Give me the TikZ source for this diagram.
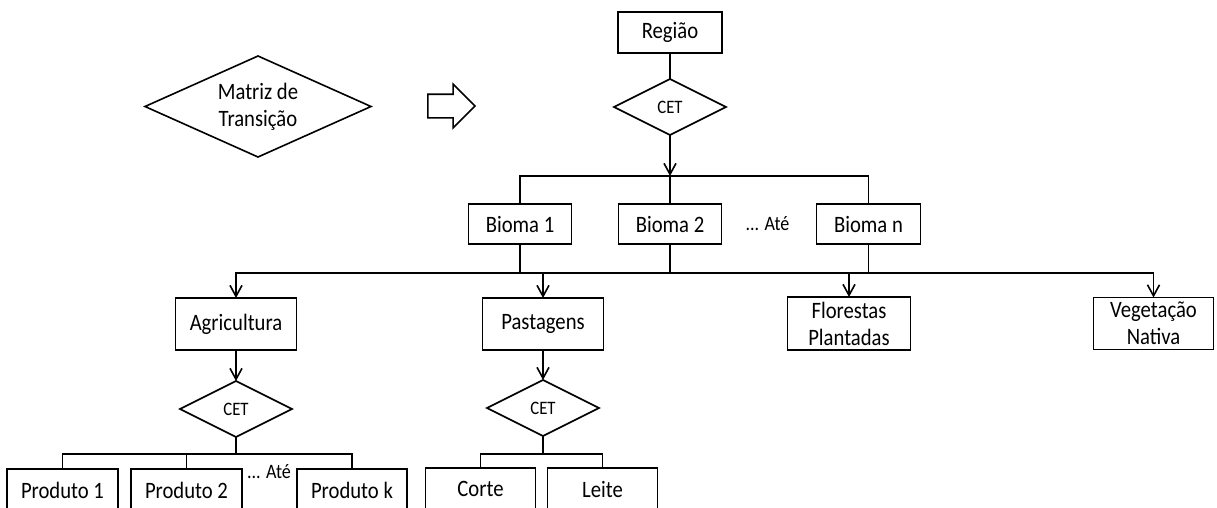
\documentclass[tikz,border=0pt]{standalone}
\usepackage{fontspec}
\setmainfont{Carlito}[FakeStretch=0.88]
\usetikzlibrary{shapes,arrows.meta,positioning}

\tikzstyle{caixa} = [rectangle, draw=black, line width=1.6pt, text=black, text centered, align=center, font=\fontsize{23.5}{27}\selectfont, inner sep=0pt, outer sep=0pt, minimum height=40pt]
\tikzstyle{decisao} = [diamond, aspect=2, draw=black, line width=1.6pt, text=black, text centered, font=\fontsize{19}{22}\selectfont, inner sep=0pt, outer sep=0pt, minimum width=112pt, minimum height=56pt]
\tikzstyle{nota} = [inner sep=0pt, outer sep=0pt, text=black, font=\fontsize{20.5}{22}\selectfont]
\tikzstyle{tline} = [draw, line width=1.6pt]
\tikzstyle{tedge} = [draw, line width=1.6pt, >={Straight Barb[length=11pt,width=12pt]}, ->]

\begin{document}
\begin{tikzpicture}[x=1pt, y=1pt]
\useasboundingbox (0,0) rectangle (1217,-507);
\clip (0,0) rectangle (1217,-507);

% legenda =============================
\node[decisao, aspect=2.2, minimum width=226pt, minimum height=101pt, font=\fontsize{23.5}{27}\selectfont, align=center] (matriz) at (258,-106.5) {Matriz de\\Transição};
\node[single arrow, draw=black, line width=1.6pt, minimum height=47pt, minimum width=42pt, single arrow head extend=10pt, inner xsep=0pt, inner ysep=11pt, outer sep=0pt] (seta) at (445.5,-106) {};

% regiao e biomas
\node[caixa, minimum width=104pt, minimum height=41pt] (regiao) at (670,-32.5) {Região};
\node[decisao, below=26pt of regiao] (cet1) {CET};
\node[caixa, below=69pt of cet1, minimum width=103pt] (bioma2) {Bioma 2};
\node[caixa, left=47pt of bioma2, minimum width=103pt] (bioma1) {Bioma 1};
\node[caixa, right=95pt of bioma2, minimum width=104pt] (biomaN) {Bioma n};
\node[nota, right=24pt of bioma2] (ate1) {... Até};
\coordinate[below=41pt of cet1] (bar1);
\coordinate[below=29pt of bioma2] (bar2);

% usos da terra
\node[caixa, below left=54pt and 172pt of bioma1, minimum width=121pt, minimum height=52pt] (agric) {Agricultura};
\node[caixa, below=54pt of bioma1, xshift=23pt, minimum width=121pt, minimum height=52pt] (pastagens) {Pastagens};
\node[caixa, below=53pt of biomaN, xshift=-19.5pt, minimum width=123pt, minimum height=53pt] (florestas) {Florestas\\Plantadas};
\node[caixa, right=183pt of florestas, minimum width=120pt, minimum height=52pt] (vegetacao) {Vegetação\\Nativa};

% produtos
\node[decisao, below=31pt of agric] (cet2) {CET};
\node[decisao, below=30pt of pastagens] (cet3) {CET};
\coordinate[below=17pt of cet2] (bar3);
\coordinate[below=18pt of cet3] (bar4);
\node[caixa, below=32pt of cet2, xshift=-49.5pt, minimum width=111pt, minimum height=42pt] (prod2) {Produto 2};
\node[caixa, left=13pt of prod2, minimum width=111pt, minimum height=42pt] (prod1) {Produto 1};
\node[caixa, right=55pt of prod2, minimum width=110pt, minimum height=42pt] (prodk) {Produto k};
\node[nota, right=5pt of prod2, yshift=18pt] (ate2) {... Até};
\node[caixa, below=32pt of cet3, xshift=-62.5pt, minimum width=110pt, minimum height=42pt] (corte) {Corte};
\node[caixa, right=12pt of corte, minimum width=110pt, minimum height=42pt] (leite) {Leite};

%edges
\path[tline] (regiao) -- (cet1);
\path[tedge] (cet1) -- (bar1);
\path[tline] (bar1) -- (bioma2);
\path[tline] (bioma1) |- (bar1) -| (biomaN);

\path[tline] (bioma1) -- (bioma1 |- bar2);
\path[tline] (bioma2) -- (bar2);
\path[tline] (biomaN) -- (biomaN |- bar2);
\path[tedge] (bar2) -| (agric);
\path[tedge] (bar2) -| (vegetacao);
\path[tedge] (bar2 -| pastagens) -- (pastagens);
\path[tedge] (bar2 -| florestas) -- (florestas);

\path[tedge] (agric) -- (cet2);
\path[tedge] (pastagens) -- (cet3);
\path[tline] (cet2) -- (bar3);
\path[tline] (prod1) |- (bar3) -| (prodk);
\path[tline] (bar3 -| prod2) -- (prod2);
\path[tline] (cet3) -- (bar4);
\path[tline] (corte) |- (bar4) -| (leite);

\end{tikzpicture}
\end{document}
